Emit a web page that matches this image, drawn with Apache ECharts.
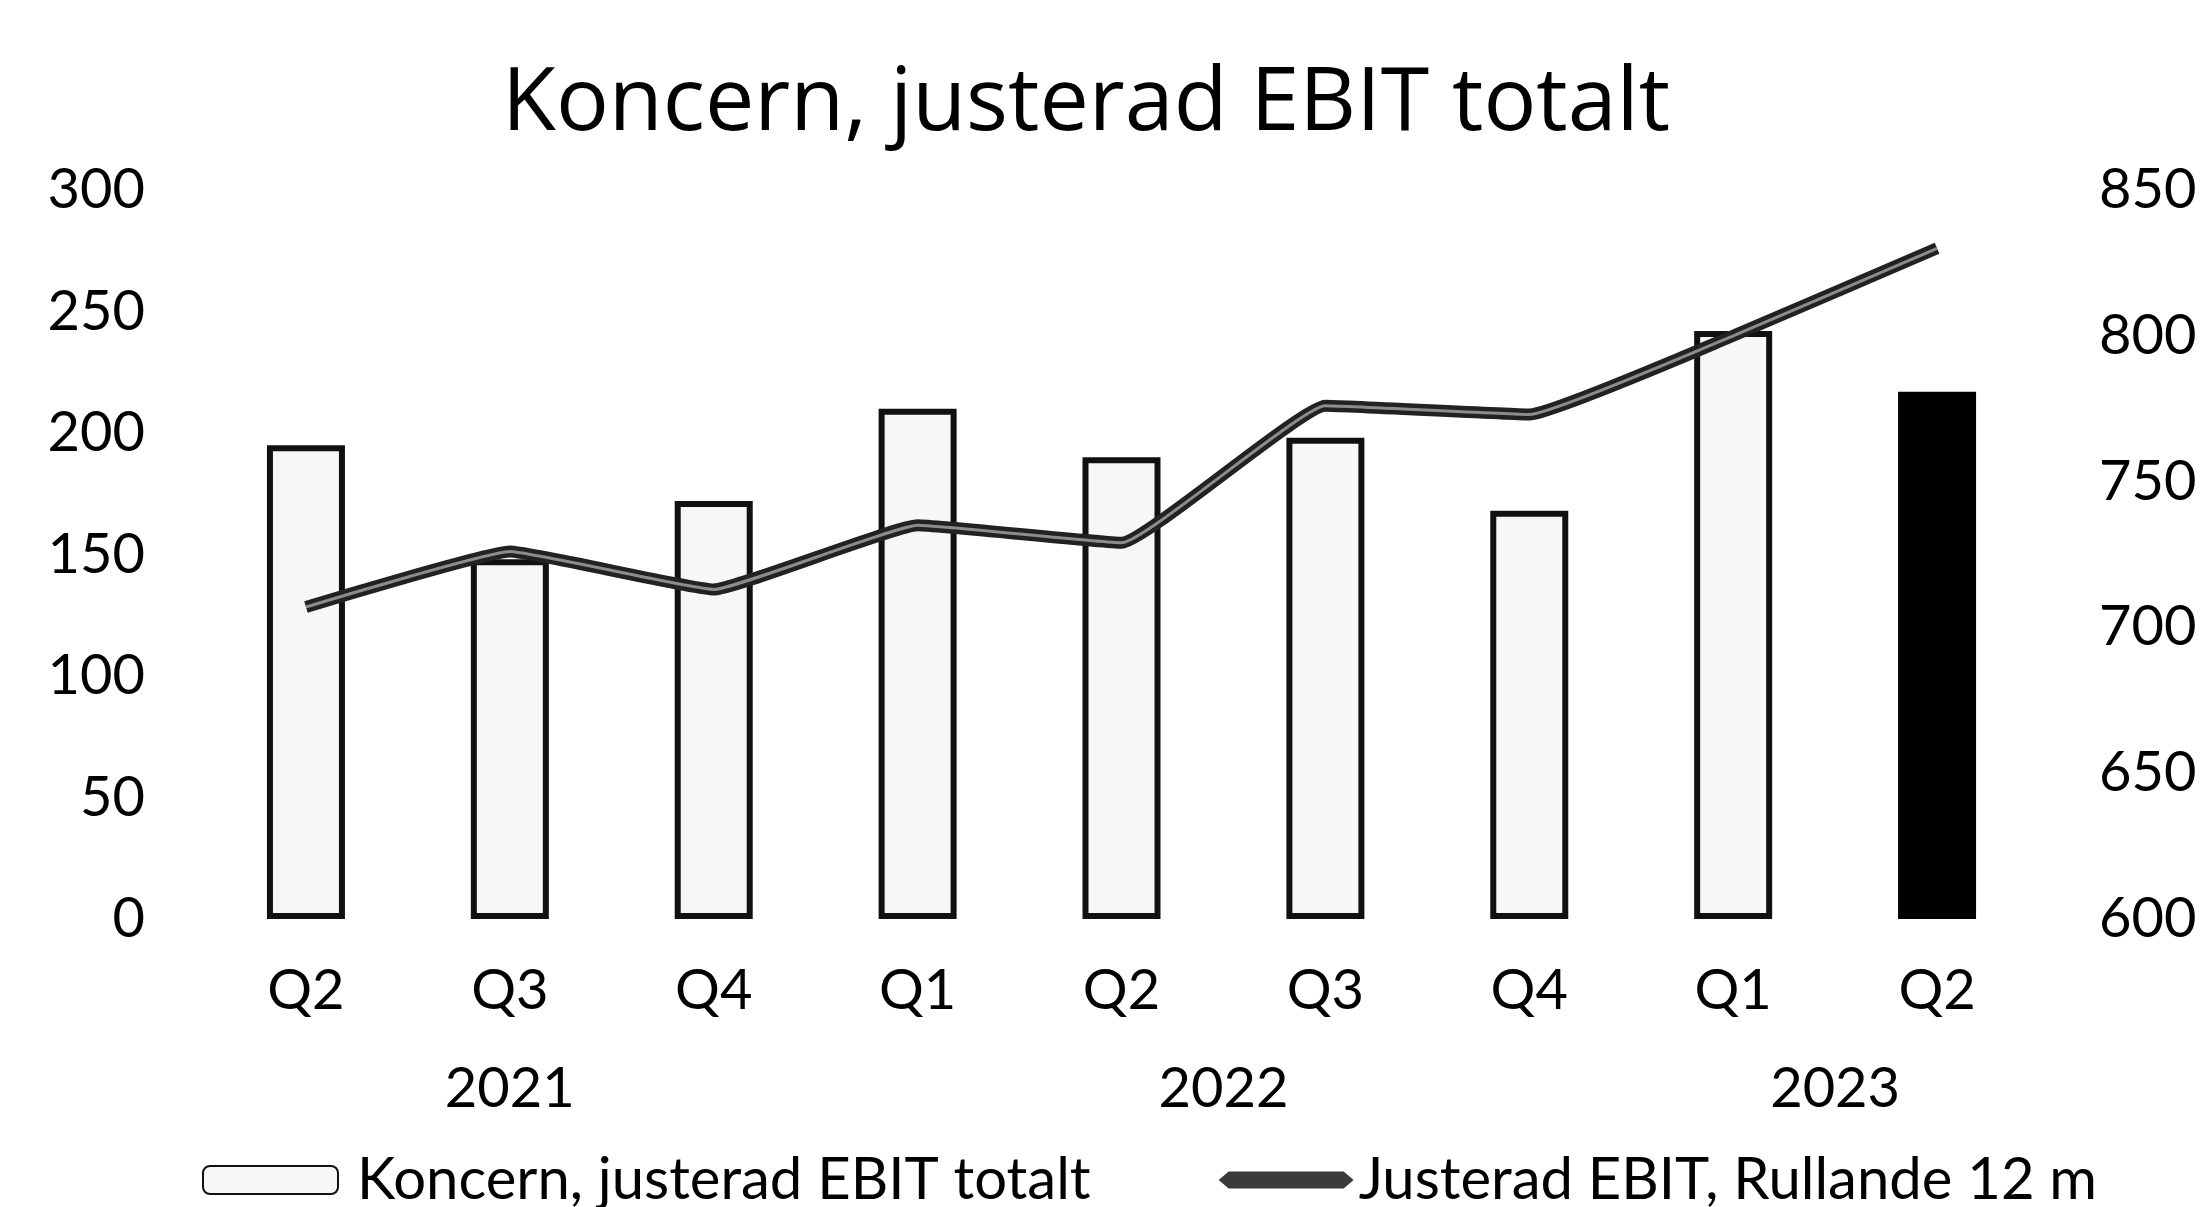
<!DOCTYPE html>
<html><head><meta charset="utf-8">
<script src="https://cdn.jsdelivr.net/npm/echarts@6/dist/echarts.min.js"></script>
<style>html,body{margin:0;padding:0;background:#fff}#c{width:2201px;height:1207px}</style>
</head><body><div id="c"></div>
<script>
const quarters = ['Q2','Q3','Q4','Q1','Q2','Q3','Q4','Q1','Q2'];
// year labels on a half-category grid (19 points), centred under their quarters
const yearLabels = ['', '', '', '2021', '', '', '', '', '', '', '2022', '', '', '', '', '', '2023', '', ''];
const ebitQuarter = [195, 148, 172, 210, 190, 198, 168, 242, 217];
const ebitRolling12m = [707, 726, 713, 735, 729, 776, 773, 800, 830];
const barName = 'Koncern, justerad EBIT totalt';
const lineName = 'Justerad EBIT, Rullande 12 m';

const FONT = 'Lato, "Open Sans", sans-serif';
const TFONT = '"Open Sans", Lato, sans-serif';
const chart = echarts.init(document.getElementById('c'), null, {renderer: 'canvas'});
const last = ebitQuarter.length - 1;
chart.setOption({
  animation: false,
  backgroundColor: '#fff',
  title: {
    text: barName, left: 497, top: 56,
    textStyle: {fontFamily: TFONT, fontSize: 88, fontWeight: 'normal', color: '#000'}
  },
  grid: {left: 204, right: 162, top: 190, bottom: 288},
  legend: {
    left: 197, top: 1146,
    itemWidth: 135, itemHeight: 28, itemGap: 128,
    textStyle: {fontFamily: FONT, fontSize: 58, color: '#000'},
    data: [
      {name: barName, textStyle: {padding: [0, 0, 0, 14]}},
      {name: lineName, icon: 'path://M0,8.5 L10,0 L125,0 L135,8.5 L125,17 L10,17 Z',
       itemStyle: {color: '#3a3a3a', borderWidth: 0}, textStyle: {padding: [0, 0, 0, 0]}}
    ]
  },
  xAxis: [{
    type: 'category', data: quarters,
    axisLine: {show: false}, axisTick: {show: false},
    axisLabel: {fontFamily: FONT, fontSize: 56, color: '#000', margin: 44, interval: 0}
  }, {
    type: 'category', data: yearLabels, boundaryGap: false, position: 'bottom',
    axisLine: {show: false}, axisTick: {show: false},
    axisLabel: {fontFamily: FONT, fontSize: 56, color: '#000', margin: 142, interval: 0}
  }],
  yAxis: [{
    type: 'value', min: 0, max: 300, interval: 50,
    splitLine: {show: false}, axisLine: {show: false}, axisTick: {show: false},
    axisLabel: {fontFamily: FONT, fontSize: 56, color: '#000', margin: 59}
  }, {
    type: 'value', min: 600, max: 850, interval: 50, position: 'right',
    splitLine: {show: false}, axisLine: {show: false}, axisTick: {show: false},
    axisLabel: {fontFamily: FONT, fontSize: 56, color: '#000', margin: 60}
  }],
  series: [{
    name: barName, type: 'bar', barWidth: 78,
    itemStyle: {color: '#f7f7f7', borderColor: '#111', borderWidth: 6},
    data: ebitQuarter.map((v, i) => i === last ? {value: v, itemStyle: {color: '#000', borderColor: '#000'}} : v)
  }, {
    name: lineName, type: 'line', yAxisIndex: 1, symbol: 'none', smooth: 0.1, z: 3,
    lineStyle: {color: '#222', width: 12},
    itemStyle: {color: '#222'},
    data: ebitRolling12m
  }, {
    name: 'lineInner', type: 'line', yAxisIndex: 1, symbol: 'none', smooth: 0.1, z: 4, silent: true,
    lineStyle: {color: '#8c8c8c', width: 3},
    data: ebitRolling12m
  }]
});
</script></body></html>
